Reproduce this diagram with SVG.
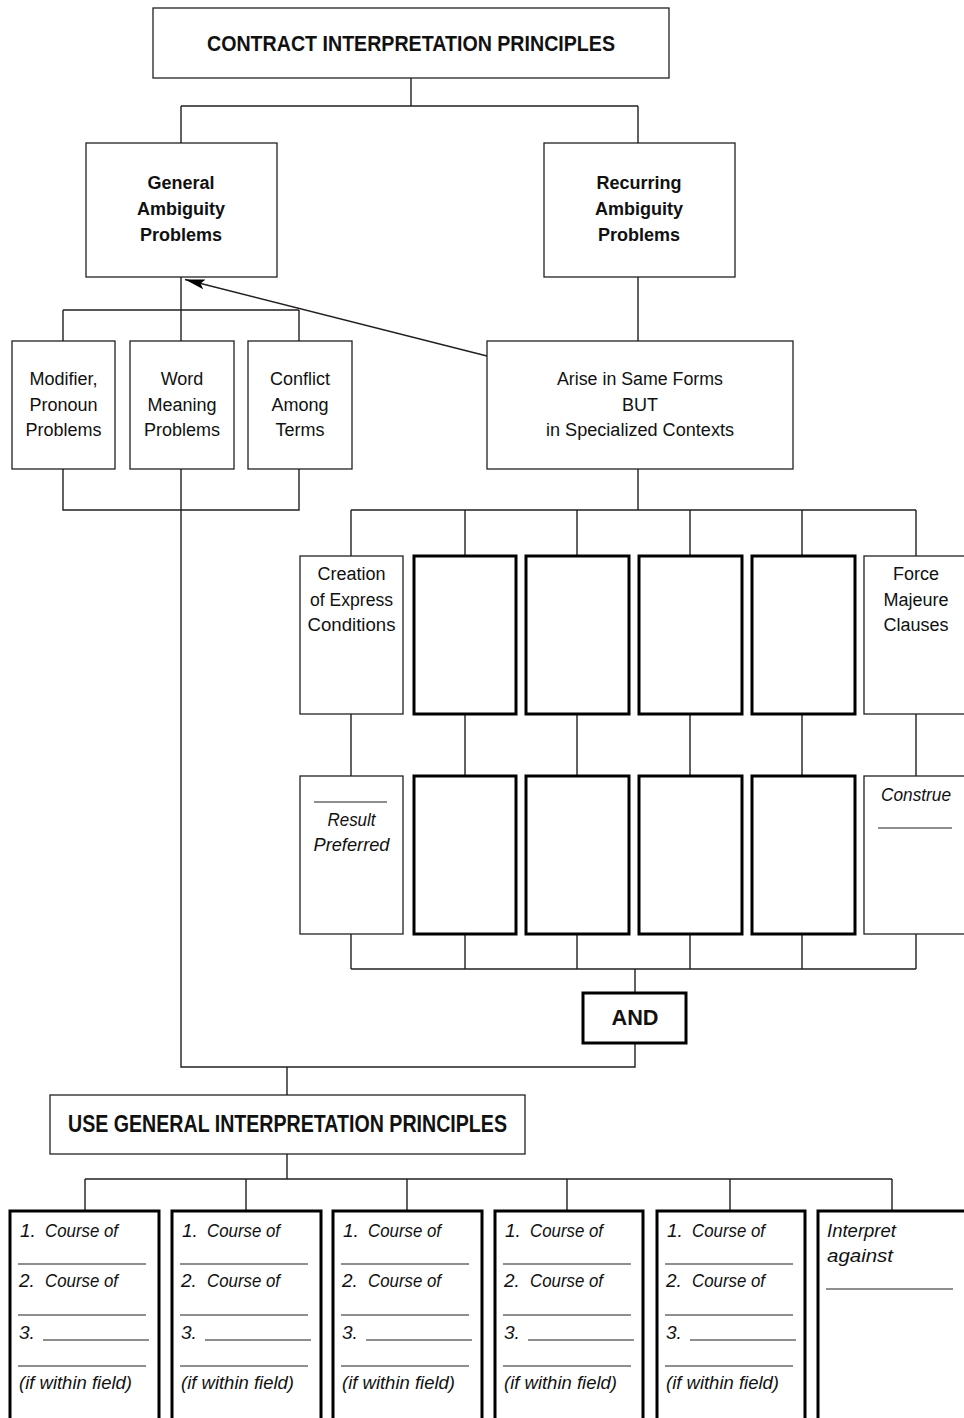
<svg xmlns="http://www.w3.org/2000/svg" width="964" height="1418" viewBox="0 0 964 1418">
<style>
  .bg { fill: #ffffff; }
  .box { fill: #ffffff; stroke: #231f20; stroke-width: 1.3; }
  .thick { fill: #ffffff; stroke: #000000; stroke-width: 3; }
  .con { fill: none; stroke: #231f20; stroke-width: 1.4; }
  .ul { fill: none; stroke: #231f20; stroke-width: 1.1; }
  text { font-family: "Liberation Sans", Arial, sans-serif; fill: #111111; }
  .t { font-size: 18px; text-anchor: middle; }
  .b { font-size: 18px; font-weight: bold; text-anchor: middle; }
  .title { font-size: 22px; font-weight: bold; text-anchor: middle; }
  .i { font-size: 19px; font-style: italic; }
  .ic { font-size: 19px; font-style: italic; text-anchor: middle; }
</style>
<defs>
  <marker id="arrow" viewBox="0 0 20 10" refX="20" refY="5" markerWidth="20" markerHeight="10" markerUnits="userSpaceOnUse" orient="auto">
    <path d="M0,0 L20,5 L0,10 L4,5 z" fill="#000000"/>
  </marker>
</defs>
<rect class="bg" x="0" y="0" width="964" height="1418"/>

<g id="connectors">
  <path class="con" d="M411,78 V106 M181,106 H638 M181,106 V143 M638,106 V143"/>
  <path class="con" d="M181,277 V341 M63,310 H299 M63,310 V341 M299,310 V341"/>
  <path class="con" d="M63,469 V510 H299 V469 M181,469 V1067 H635 V1043"/>
  <path class="con" d="M638,277 V341 M638,469 V510 M351,510 H916"/>
  <path class="con" d="M351,510 V556 M465,510 V556 M577,510 V556 M690,510 V556 M802,510 V556 M916,510 V556"/>
  <path class="con" d="M351,714 V776 M465,714 V776 M577,714 V776 M690,714 V776 M802,714 V776 M916,714 V776"/>
  <path class="con" d="M351,934 V969 M465,934 V969 M577,934 V969 M690,934 V969 M802,934 V969 M916,934 V969 M351,969 H916 M635,969 V993"/>
  <path class="con" d="M287,1067 V1095 M287,1154 V1179 M85,1179 H892"/>
  <path class="con" d="M85,1179 V1211 M246,1179 V1211 M407,1179 V1211 M567,1179 V1211 M730,1179 V1211 M892,1179 V1211"/>
  <line class="con" x1="487" y1="356" x2="185" y2="279.5" marker-end="url(#arrow)"/>
</g>

<g id="n-contract">
  <rect class="box" x="153" y="8" width="516" height="70"/>
  <text class="title" x="411" y="51" textLength="408" lengthAdjust="spacingAndGlyphs">CONTRACT INTERPRETATION PRINCIPLES</text>
</g>

<g id="n-general">
  <rect class="box" x="86" y="143" width="191" height="134"/>
  <text class="b" x="181" y="189">General</text>
  <text class="b" x="181" y="215">Ambiguity</text>
  <text class="b" x="181" y="241">Problems</text>
</g>

<g id="n-recurring">
  <rect class="box" x="544" y="143" width="191" height="134"/>
  <text class="b" x="639" y="189">Recurring</text>
  <text class="b" x="639" y="215">Ambiguity</text>
  <text class="b" x="639" y="241">Problems</text>
</g>

<g id="n-modifier">
  <rect class="box" x="12" y="341" width="103" height="128"/>
  <text class="t" x="63.5" y="385">Modifier,</text>
  <text class="t" x="63.5" y="411">Pronoun</text>
  <text class="t" x="63.5" y="436">Problems</text>
</g>

<g id="n-word">
  <rect class="box" x="130" y="341" width="104" height="128"/>
  <text class="t" x="182" y="385">Word</text>
  <text class="t" x="182" y="411">Meaning</text>
  <text class="t" x="182" y="436">Problems</text>
</g>

<g id="n-conflict">
  <rect class="box" x="248" y="341" width="104" height="128"/>
  <text class="t" x="300" y="385">Conflict</text>
  <text class="t" x="300" y="411">Among</text>
  <text class="t" x="300" y="436">Terms</text>
</g>

<g id="n-arise">
  <rect class="box" x="487" y="341" width="306" height="128"/>
  <text class="t" x="640" y="385" textLength="166" lengthAdjust="spacingAndGlyphs">Arise in Same Forms</text>
  <text class="t" x="640" y="411">BUT</text>
  <text class="t" x="640" y="436" textLength="188" lengthAdjust="spacingAndGlyphs">in Specialized Contexts</text>
</g>

<g id="n-creation">
  <rect class="box" x="300" y="556" width="103" height="158"/>
  <text class="t" x="351.5" y="580">Creation</text>
  <text class="t" x="351.5" y="606" textLength="83" lengthAdjust="spacingAndGlyphs">of Express</text>
  <text class="t" x="351.5" y="631" textLength="88" lengthAdjust="spacingAndGlyphs">Conditions</text>
</g>
<g id="n-blank1"><rect class="thick" x="414" y="556" width="102" height="158"/></g>
<g id="n-blank2"><rect class="thick" x="526" y="556" width="103" height="158"/></g>
<g id="n-blank3"><rect class="thick" x="639" y="556" width="103" height="158"/></g>
<g id="n-blank4"><rect class="thick" x="752" y="556" width="103" height="158"/></g>
<g id="n-force">
  <rect class="box" x="864" y="556" width="110" height="158"/>
  <text class="t" x="916" y="580">Force</text>
  <text class="t" x="916" y="606">Majeure</text>
  <text class="t" x="916" y="631">Clauses</text>
</g>

<g id="n-result">
  <rect class="box" x="300" y="776" width="103" height="158"/>
  <line class="ul" x1="314" y1="802" x2="387" y2="802"/>
  <text class="ic" x="351.5" y="826" textLength="48" lengthAdjust="spacingAndGlyphs">Result</text>
  <text class="ic" x="351.5" y="851" textLength="76" lengthAdjust="spacingAndGlyphs">Preferred</text>
</g>
<g id="n-blank5"><rect class="thick" x="414" y="776" width="102" height="158"/></g>
<g id="n-blank6"><rect class="thick" x="526" y="776" width="103" height="158"/></g>
<g id="n-blank7"><rect class="thick" x="639" y="776" width="103" height="158"/></g>
<g id="n-blank8"><rect class="thick" x="752" y="776" width="103" height="158"/></g>
<g id="n-construe">
  <rect class="box" x="864" y="776" width="110" height="158"/>
  <text class="ic" x="916" y="801" textLength="70" lengthAdjust="spacingAndGlyphs">Construe</text>
  <line class="ul" x1="878" y1="828" x2="952" y2="828"/>
</g>

<g id="n-and">
  <rect class="thick" x="583" y="993" width="103" height="50"/>
  <text x="635" y="1025" style="font-size:22px;font-weight:bold;text-anchor:middle" textLength="47" lengthAdjust="spacingAndGlyphs">AND</text>
</g>

<g id="n-use">
  <rect class="box" x="50" y="1095" width="475" height="59"/>
  <text x="287.5" y="1132" style="font-size:23px;font-weight:bold;text-anchor:middle" textLength="439" lengthAdjust="spacingAndGlyphs">USE GENERAL INTERPRETATION PRINCIPLES</text>
</g>

<g id="n-course1">
  <rect class="thick" x="10" y="1211" width="149" height="230"/>
  <text class="i" x="20" y="1237">1.</text>
  <text class="i" x="45" y="1237" textLength="73" lengthAdjust="spacingAndGlyphs">Course of</text>
  <line class="ul" x1="18" y1="1264" x2="146" y2="1264"/>
  <text class="i" x="19" y="1287">2.</text>
  <text class="i" x="45" y="1287" textLength="73" lengthAdjust="spacingAndGlyphs">Course of</text>
  <line class="ul" x1="18" y1="1315" x2="146" y2="1315"/>
  <text class="i" x="19" y="1339">3.</text>
  <line class="ul" x1="43" y1="1340" x2="149" y2="1340"/>
  <line class="ul" x1="18" y1="1366" x2="146" y2="1366"/>
  <text class="i" x="19" y="1389" textLength="113" lengthAdjust="spacingAndGlyphs">(if within field)</text>
</g>
<g id="n-course2">
  <rect class="thick" x="172" y="1211" width="149" height="230"/>
  <text class="i" x="182" y="1237">1.</text>
  <text class="i" x="207" y="1237" textLength="73" lengthAdjust="spacingAndGlyphs">Course of</text>
  <line class="ul" x1="180" y1="1264" x2="308" y2="1264"/>
  <text class="i" x="181" y="1287">2.</text>
  <text class="i" x="207" y="1287" textLength="73" lengthAdjust="spacingAndGlyphs">Course of</text>
  <line class="ul" x1="180" y1="1315" x2="308" y2="1315"/>
  <text class="i" x="181" y="1339">3.</text>
  <line class="ul" x1="205" y1="1340" x2="311" y2="1340"/>
  <line class="ul" x1="180" y1="1366" x2="308" y2="1366"/>
  <text class="i" x="181" y="1389" textLength="113" lengthAdjust="spacingAndGlyphs">(if within field)</text>
</g>
<g id="n-course3">
  <rect class="thick" x="333" y="1211" width="149" height="230"/>
  <text class="i" x="343" y="1237">1.</text>
  <text class="i" x="368" y="1237" textLength="73" lengthAdjust="spacingAndGlyphs">Course of</text>
  <line class="ul" x1="341" y1="1264" x2="469" y2="1264"/>
  <text class="i" x="342" y="1287">2.</text>
  <text class="i" x="368" y="1287" textLength="73" lengthAdjust="spacingAndGlyphs">Course of</text>
  <line class="ul" x1="341" y1="1315" x2="469" y2="1315"/>
  <text class="i" x="342" y="1339">3.</text>
  <line class="ul" x1="366" y1="1340" x2="472" y2="1340"/>
  <line class="ul" x1="341" y1="1366" x2="469" y2="1366"/>
  <text class="i" x="342" y="1389" textLength="113" lengthAdjust="spacingAndGlyphs">(if within field)</text>
</g>
<g id="n-course4">
  <rect class="thick" x="495" y="1211" width="148" height="230"/>
  <text class="i" x="505" y="1237">1.</text>
  <text class="i" x="530" y="1237" textLength="73" lengthAdjust="spacingAndGlyphs">Course of</text>
  <line class="ul" x1="503" y1="1264" x2="631" y2="1264"/>
  <text class="i" x="504" y="1287">2.</text>
  <text class="i" x="530" y="1287" textLength="73" lengthAdjust="spacingAndGlyphs">Course of</text>
  <line class="ul" x1="503" y1="1315" x2="631" y2="1315"/>
  <text class="i" x="504" y="1339">3.</text>
  <line class="ul" x1="528" y1="1340" x2="634" y2="1340"/>
  <line class="ul" x1="503" y1="1366" x2="631" y2="1366"/>
  <text class="i" x="504" y="1389" textLength="113" lengthAdjust="spacingAndGlyphs">(if within field)</text>
</g>
<g id="n-course5">
  <rect class="thick" x="657" y="1211" width="148" height="230"/>
  <text class="i" x="667" y="1237">1.</text>
  <text class="i" x="692" y="1237" textLength="73" lengthAdjust="spacingAndGlyphs">Course of</text>
  <line class="ul" x1="665" y1="1264" x2="793" y2="1264"/>
  <text class="i" x="666" y="1287">2.</text>
  <text class="i" x="692" y="1287" textLength="73" lengthAdjust="spacingAndGlyphs">Course of</text>
  <line class="ul" x1="665" y1="1315" x2="793" y2="1315"/>
  <text class="i" x="666" y="1339">3.</text>
  <line class="ul" x1="690" y1="1340" x2="796" y2="1340"/>
  <line class="ul" x1="665" y1="1366" x2="793" y2="1366"/>
  <text class="i" x="666" y="1389" textLength="113" lengthAdjust="spacingAndGlyphs">(if within field)</text>
</g>
<g id="n-interpret">
  <rect class="thick" x="818" y="1211" width="160" height="230"/>
  <text class="i" x="827" y="1237" textLength="69" lengthAdjust="spacingAndGlyphs">Interpret</text>
  <text class="i" x="827" y="1262" textLength="66" lengthAdjust="spacingAndGlyphs">against</text>
  <line class="ul" x1="826" y1="1289" x2="953" y2="1289"/>
</g>
</svg>
